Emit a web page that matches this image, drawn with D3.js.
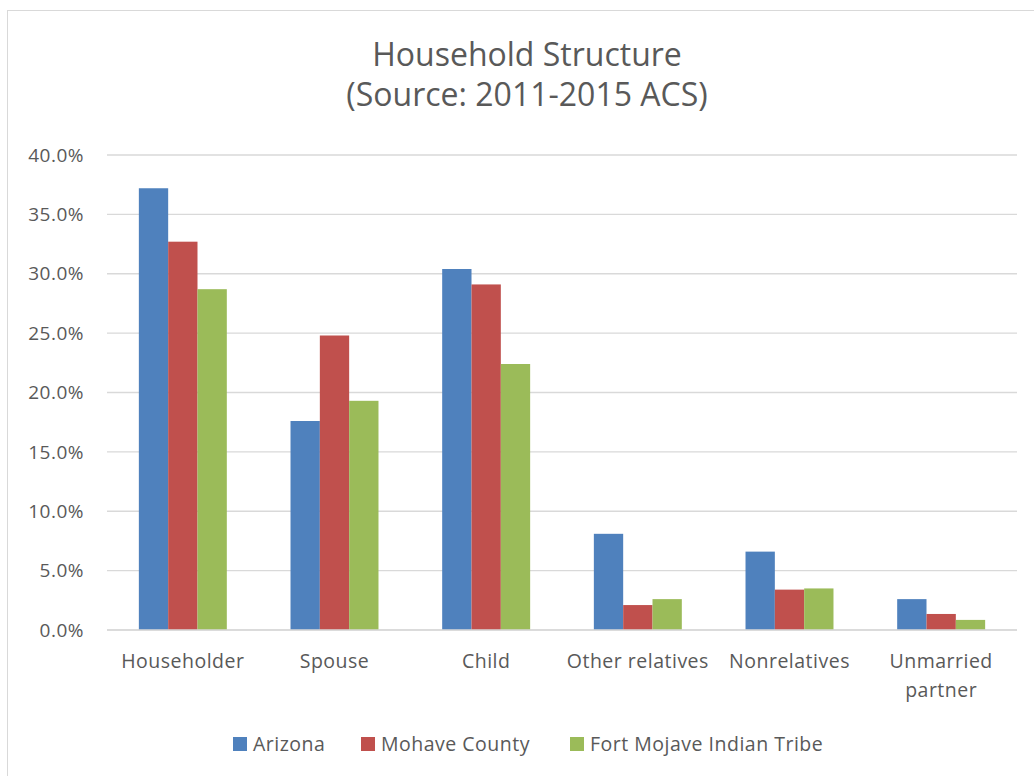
<!DOCTYPE html>
<html>
<head>
<meta charset="utf-8">
<script src="https://cdnjs.cloudflare.com/ajax/libs/d3/7.8.5/d3.min.js"></script>
<style>
  body { margin: 0; background: #fff; }
  text { font-family: "Open Sans", Lato, sans-serif; fill: #595959; }
</style>
</head>
<body>
<div id="chart"></div>
<script>
// categories and series values (percent of population)
const categories = ["Householder", "Spouse", "Child", "Other relatives", "Nonrelatives", "Unmarried partner"];
const seriesNames = ["Arizona", "Mohave County", "Fort Mojave Indian Tribe"];
const arizona = [37.2, 17.6, 30.4, 8.1, 6.6, 2.6];
const mohave = [32.7, 24.8, 29.1, 2.1, 3.4, 1.35];
const fortMojave = [28.7, 19.3, 22.4, 2.6, 3.5, 0.85];
const yTicks = [0, 5, 10, 15, 20, 25, 30, 35, 40];
const colors = ["#4F81BD", "#C0504D", "#9BBB59"];

const width = 1034, height = 776;
const margin = { top: 155, right: 17, bottom: 146, left: 107 };

const svg = d3.select("#chart").append("svg")
    .attr("width", width)
    .attr("height", height);

// chart border
svg.append("rect")
    .attr("x", 7.5).attr("y", 10.5)
    .attr("width", 1040).attr("height", 790)
    .attr("fill", "#fff")
    .attr("stroke", "#d9d9d9")
    .attr("stroke-width", 1);

const x = d3.scaleBand()
    .domain(categories)
    .range([margin.left, width - margin.right])
    .paddingInner(0.42)
    .paddingOuter(0.21);

const xSeries = d3.scaleBand()
    .domain(seriesNames)
    .range([0, x.bandwidth()]);

const y = d3.scaleLinear()
    .domain([0, 40])
    .range([height - margin.bottom, margin.top]);

// gridlines
svg.append("g")
    .selectAll("line")
    .data(yTicks)
    .enter().append("line")
    .attr("x1", margin.left)
    .attr("x2", width - margin.right)
    .attr("y1", d => y(d))
    .attr("y2", d => y(d))
    .attr("stroke", "#d9d9d9")
    .attr("stroke-width", 1.3);

// y axis labels
svg.append("g")
    .selectAll("text")
    .data(yTicks)
    .enter().append("text")
    .attr("x", 84)
    .attr("y", d => y(d))
    .attr("dy", "0.35em")
    .attr("text-anchor", "end")
    .style("font-size", "19px")
    .style("letter-spacing", "0.5px")
    .text(d => d.toFixed(1) + "%");

// bars
const table = categories.map((c, i) => ({
    category: c,
    values: [arizona[i], mohave[i], fortMojave[i]]
}));

const groups = svg.append("g")
    .selectAll("g")
    .data(table)
    .enter().append("g")
    .attr("transform", d => `translate(${x(d.category)},0)`);

groups.selectAll("rect")
    .data(d => d.values.map((v, j) => ({ series: seriesNames[j], value: v, color: colors[j] })))
    .enter().append("rect")
    .attr("x", d => xSeries(d.series))
    .attr("width", xSeries.bandwidth())
    .attr("y", d => y(d.value))
    .attr("height", d => y(0) - y(d.value))
    .attr("fill", d => d.color);

// redraw baseline over bars
svg.append("line")
    .attr("x1", margin.left)
    .attr("x2", width - margin.right)
    .attr("y1", y(0))
    .attr("y2", y(0))
    .attr("stroke", "#d9d9d9")
    .attr("stroke-width", 1.3);

// category labels (wrap the last one like the original)
const catLines = { "Unmarried partner": ["Unmarried", "partner"] };
const catLabels = svg.append("g")
    .selectAll("text")
    .data(categories)
    .enter().append("text")
    .attr("x", d => x(d) + x.bandwidth() / 2)
    .attr("y", 668)
    .attr("text-anchor", "middle")
    .style("font-size", "19.5px")
    .style("letter-spacing", "0.5px");

catLabels.each(function (d) {
    const lines = catLines[d] || [d];
    d3.select(this).selectAll("tspan")
        .data(lines)
        .enter().append("tspan")
        .attr("x", x(d) + x.bandwidth() / 2)
        .attr("dy", (l, i) => i === 0 ? 0 : 29)
        .text(l => l);
});

// title
const title = svg.append("text")
    .attr("x", 527)
    .attr("text-anchor", "middle")
    .style("font-size", "32px");
title.append("tspan").attr("x", 527).attr("y", 66).text("Household Structure");
title.append("tspan").attr("x", 527).attr("y", 106).text("(Source: 2011-2015 ACS)");

// legend
const legendX = [233, 361, 570];
const legend = svg.append("g")
    .selectAll("g")
    .data(seriesNames)
    .enter().append("g")
    .attr("transform", (d, i) => `translate(${legendX[i]},737)`);

legend.append("rect")
    .attr("width", 14)
    .attr("height", 14)
    .attr("fill", (d, i) => colors[i]);

legend.append("text")
    .attr("x", 20)
    .attr("y", 7)
    .attr("dy", "0.35em")
    .style("font-size", "19.5px")
    .style("letter-spacing", "0.5px")
    .text(d => d);
</script>
</body>
</html>
